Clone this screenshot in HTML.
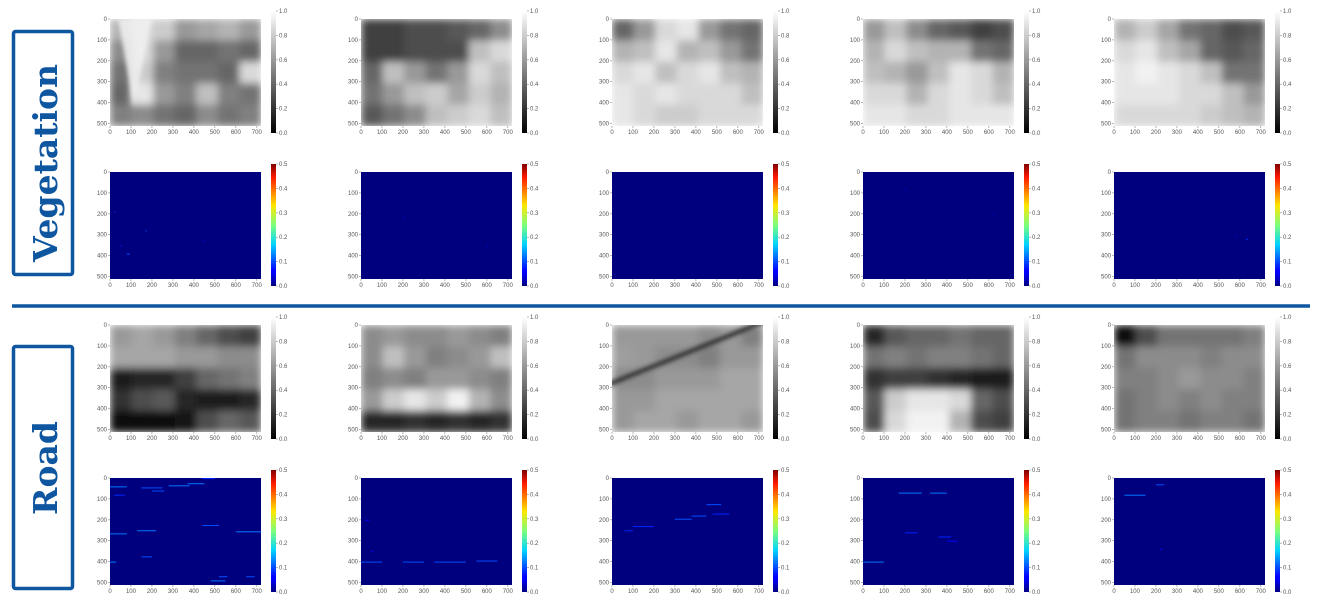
<!DOCTYPE html>
<html><head><meta charset="utf-8">
<style>
html,body{margin:0;padding:0;background:#fff;width:1318px;height:610px;overflow:hidden;font-family:"Liberation Sans",sans-serif}
svg{display:block}
</style></head>
<body>
<svg id="fig" width="1318" height="610" xmlns="http://www.w3.org/2000/svg">
<defs>
<linearGradient id="grayGrad" x1="0" y1="1" x2="0" y2="0"><stop offset="0" stop-color="#000"/><stop offset="1" stop-color="#fff"/></linearGradient>
<linearGradient id="jetGrad" x1="0" y1="1" x2="0" y2="0">
<stop offset="0" stop-color="#00007f"/><stop offset="0.11" stop-color="#0000ff"/><stop offset="0.125" stop-color="#0000ff"/>
<stop offset="0.34" stop-color="#00d4ff"/><stop offset="0.5" stop-color="#7dff7a"/><stop offset="0.66" stop-color="#ffe600"/>
<stop offset="0.89" stop-color="#ff1a00"/><stop offset="1" stop-color="#7f0000"/></linearGradient>
<filter id="blur" x="0" y="0" width="1" height="1"><feGaussianBlur stdDeviation="4" edgeMode="duplicate"/></filter>
<filter id="soft" x="-0.2" y="-0.2" width="1.4" height="1.4"><feGaussianBlur stdDeviation="2"/></filter>
</defs>
<g>
<rect x="13.5" y="31.5" width="59" height="243" rx="2" fill="none" stroke="#0f56a0" stroke-width="3.5"/>
<text transform="translate(57,163) rotate(-90)" text-anchor="middle" font-family="'DejaVu Serif',serif" font-weight="bold" font-size="33" fill="#0f56a0">Vegetation</text>
</g>
<g>
<rect x="13.5" y="346.5" width="59" height="242" rx="2" fill="none" stroke="#0f56a0" stroke-width="3.5"/>
<text transform="translate(57,468) rotate(-90)" text-anchor="middle" font-family="'DejaVu Serif',serif" font-weight="bold" font-size="33" fill="#0f56a0">Road</text>
</g>
<line x1="12" y1="306" x2="1310" y2="306" stroke="#0f56a0" stroke-width="3.5"/>
</svg>
<script>
const colX=[110,361,612,863,1114];
const rowY=[19,172,325,478];
const xTicks=[0,100,200,300,400,500,600,700];
const yTicks=[0,100,200,300,400,500];
const grayTicks=[0.0,0.2,0.4,0.6,0.8,1.0];
const errTicks=[0.0,0.1,0.2,0.3,0.4,0.5];
const vegImages=[
[[.7,.85,.8,.6,.65,.7,.6],[.55,.85,.6,.4,.4,.45,.4],[.45,.8,.5,.45,.45,.4,.85],[.4,.9,.6,.5,.75,.5,.45],[.5,.55,.45,.4,.55,.45,.5]],
[[.25,.25,.3,.3,.35,.4,.55],[.25,.25,.3,.3,.3,.75,.85],[.4,.75,.6,.45,.6,.85,.75],[.45,.6,.75,.8,.65,.8,.7],[.35,.45,.55,.75,.8,.85,.75]],
[[.4,.6,.85,.9,.6,.45,.4],[.7,.75,.9,.7,.75,.6,.45],[.85,.9,.75,.85,.9,.75,.7],[.9,.85,.9,.85,.85,.85,.75],[.9,.85,.8,.8,.85,.85,.85]],
[[.6,.75,.55,.4,.35,.25,.3],[.7,.85,.75,.7,.7,.45,.4],[.75,.7,.6,.75,.9,.85,.7],[.85,.85,.7,.85,.9,.85,.75],[.9,.9,.85,.85,.9,.9,.9]],
[[.7,.8,.65,.45,.4,.3,.35],[.85,.9,.75,.65,.4,.35,.4],[.9,.95,.9,.85,.75,.45,.45],[.9,.9,.9,.85,.85,.75,.6],[.85,.85,.85,.85,.8,.75,.7]]];
const roadImages=[
[[.6,.65,.6,.5,.4,.3,.25],[.65,.65,.65,.6,.6,.55,.55],[.1,.15,.15,.25,.4,.45,.5],[.2,.3,.35,.15,.1,.1,.15],[.05,.05,.05,.08,.3,.4,.35]],
[[.55,.6,.55,.55,.6,.55,.5],[.55,.75,.6,.5,.55,.6,.75],[.5,.55,.5,.6,.6,.55,.5],[.6,.8,.9,.8,.95,.7,.55],[.15,.15,.2,.15,.2,.15,.2]],
[[.6,.6,.6,.6,.55,.6,.5],[.62,.6,.55,.55,.5,.6,.6],[.55,.55,.6,.6,.6,.65,.65],[.6,.6,.65,.65,.65,.65,.65],[.6,.65,.65,.6,.65,.65,.6]],
[[.15,.35,.4,.4,.45,.4,.4],[.45,.5,.45,.5,.5,.45,.4],[.2,.25,.25,.2,.15,.1,.1],[.35,.8,.9,.9,.85,.4,.3],[.3,.85,.95,.95,.7,.3,.25]],
[[.05,.3,.45,.45,.45,.45,.5],[.45,.55,.55,.55,.5,.55,.55],[.5,.5,.55,.6,.55,.55,.5],[.45,.5,.55,.5,.55,.5,.5],[.45,.5,.5,.45,.5,.5,.45]]];
// error streaks: [x0, x1, y, value] in data units
const vegErrors=[
[[20,25,190,.08],[170,175,280,.1],[50,55,350,.08],[80,95,390,.1],[450,455,325,.07]],
[[200,205,215,.06],[600,605,350,.05]],
[],
[[200,205,80,.06],[620,625,200,.05]],
[[630,640,320,.08],[580,585,300,.06]]];
const roadErrors=[
[[0,80,40,.12],[150,250,45,.1],[200,260,60,.1],[280,380,35,.12],[370,450,25,.12],[440,500,0,.08],[20,70,80,.08],[130,220,250,.12],[440,520,225,.1],[0,80,265,.12],[600,720,255,.12],[150,200,375,.1],[0,30,400,.12],[480,550,490,.12],[520,560,470,.1],[650,690,470,.1]],
[[0,100,400,.1],[200,300,400,.1],[350,500,400,.1],[550,650,395,.1],[20,40,200,.06],[50,60,350,.06]],
[[300,380,195,.1],[380,450,180,.1],[450,520,125,.1],[100,200,230,.08],[60,100,250,.08],[480,560,170,.08]],
[[170,280,70,.12],[320,400,70,.12],[0,100,400,.12],[200,260,260,.08],[360,420,280,.08],[400,450,300,.06]],
[[50,150,80,.12],[200,240,30,.1],[220,230,340,.06]]];
const fig=document.getElementById('fig');
const NS='http://www.w3.org/2000/svg';
const W=151,H=107,DX=720,DY=512;
function mk(tag,attrs,parent){const e=document.createElementNS(NS,tag);for(const k in attrs)e.setAttribute(k,attrs[k]);parent.appendChild(e);return e;}
function gray(v){const c=Math.round(Math.max(0,Math.min(1,v))*255);return `rgb(${c},${c},${c})`;}
function jet(v){const t=Math.max(0,Math.min(1,v/0.5));
 const r=Math.max(0,Math.min(1,1.5-Math.abs(4*t-3))),g=Math.max(0,Math.min(1,1.5-Math.abs(4*t-2))),b=Math.max(0,Math.min(1,1.5-Math.abs(4*t-1)));
 return `rgb(${Math.round(r*255)},${Math.round(g*255)},${Math.round(b*255)})`;}
let cid=0;
function axes(g,x0,y0){
 const sx=d=>x0+d/DX*W, sy=d=>y0+d/DY*H;
 xTicks.forEach(t=>{mk('line',{x1:sx(t),x2:sx(t),y1:y0+H,y2:y0+H+2,stroke:'#888','stroke-width':.6},g);
  const tx=mk('text',{x:sx(t),y:y0+H+8,'font-size':6,fill:'#555','text-anchor':'middle'},g);tx.textContent=t;
  
  });
 yTicks.forEach(t=>{mk('line',{x1:x0-2,x2:x0,y1:sy(t),y2:sy(t),stroke:'#888','stroke-width':.6},g);
  const tx=mk('text',{x:x0-3,y:sy(t)+2,'font-size':6,fill:'#555','text-anchor':'end'},g);tx.textContent=t;
  
  });
}
function colorbar(g,x0,y0,grad,ticks,max){
 const bx=x0+161,by=y0-8,bh=122;
 const r=mk('rect',{x:bx,y:by,width:5,height:bh,fill:`url(#${grad})`},g);
 
 
 ticks.forEach(t=>{const yy=by+bh-t/max*bh;
  mk('line',{x1:bx+5,x2:bx+7,y1:yy,y2:yy,stroke:'#888','stroke-width':.6},g);
  const tx=mk('text',{x:bx+8,y:yy+2,'font-size':6,fill:'#555'},g);tx.textContent=t.toFixed(1);
  
  });
}
function imagePanel(grid,x0,y0){
 const g=mk('g',{},fig);
 
 
 const id='c'+(cid++);
 const cp=mk('clipPath',{id:id},fig);mk('rect',{x:x0,y:y0,width:W,height:H},cp);
 const cg=mk('g',{'clip-path':`url(#${id})`},g);
 const bg=mk('g',{filter:'url(#blur)'},cg);
 const rows=grid.length,cols=grid[0].length;
 grid.forEach((row,i)=>row.forEach((v,j)=>{
  const c=mk('rect',{x:x0+j*W/cols,y:y0+i*H/rows,width:W/cols+0.5,height:H/rows+0.5,fill:gray(v)},bg);
  
  }));
 axes(g,x0,y0);colorbar(g,x0,y0,'grayGrad',grayTicks,1);
 return cg;
}
function errorPanel(errs,x0,y0){
 const g=mk('g',{},fig);
 
 
 mk('rect',{x:x0,y:y0,width:W,height:H,fill:'#00007f'},g);
 errs.forEach(e=>{
  const s=mk('rect',{x:x0+e[0]/DX*W,y:y0+e[2]/DY*H,width:Math.max(1,(e[1]-e[0])/DX*W),height:1,fill:jet(e[3])},g);
  
  });
 axes(g,x0,y0);colorbar(g,x0,y0,'jetGrad',errTicks,0.5);
}
vegImages.forEach((gr,i)=>{const cg=imagePanel(gr,colX[i],rowY[0]);
 if(i===0){const f=mk('polygon',{points:`${colX[0]+8},${rowY[0]} ${colX[0]+42},${rowY[0]} ${colX[0]+24},${rowY[0]+88}`,fill:'#f2f2f2',filter:'url(#soft)',opacity:.85},cg);
  
  }});
vegErrors.forEach((e,i)=>errorPanel(e,colX[i],rowY[1]));
roadImages.forEach((gr,i)=>{const cg=imagePanel(gr,colX[i],rowY[2]);
 if(i===2){const l=mk('line',{x1:colX[i]-5,y1:rowY[2]+60,x2:colX[i]+W+5,y2:rowY[2]-5,stroke:'#262626','stroke-width':4,filter:'url(#soft)'},cg);
  
  }});
roadErrors.forEach((e,i)=>errorPanel(e,colX[i],rowY[3]));
</script>
</body></html>
